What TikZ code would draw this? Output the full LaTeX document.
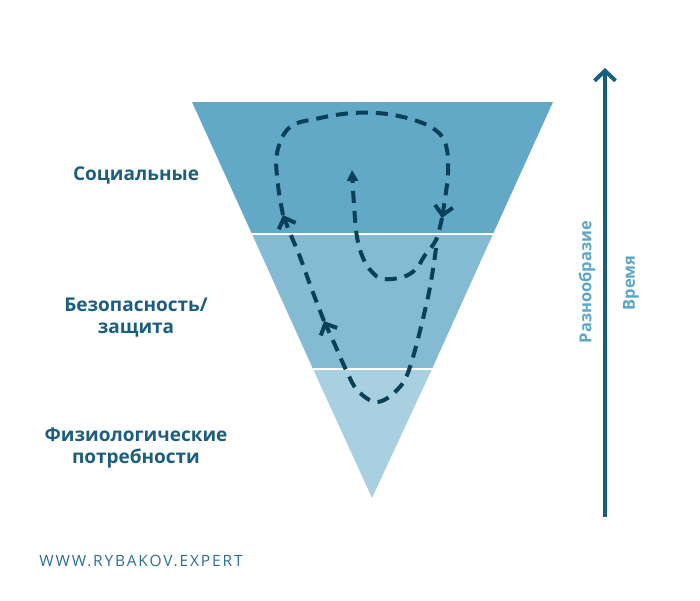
\documentclass[tikz,border=0pt]{standalone}
\usepackage{fontspec}
\setmainfont{Open Sans}
\usetikzlibrary{arrows.meta}
\definecolor{layertop}{HTML}{62A8C7}
\definecolor{layermid}{HTML}{84BBD3}
\definecolor{layerlow}{HTML}{A9D0E0}
\definecolor{pathdark}{HTML}{0B4059}
\definecolor{labelblue}{HTML}{1C5E7F}
\definecolor{axisblue}{HTML}{175F80}
\definecolor{sideblue}{HTML}{5CA7C8}
\definecolor{footblue}{HTML}{2A6F92}
\begin{document}
\begin{tikzpicture}
[x=1pt,y=-1pt,
  layerlabel/.style={font=\bfseries\fontsize{19}{22}\selectfont,text=labelblue,align=center},%
  sidelabel/.style={font=\bfseries\fontsize{16.5}{18}\selectfont,text=sideblue,rotate=90},%
  pathdecorate/.style={draw=pathdark,line width=4pt,dash pattern=on 12pt off 8pt},%
  midtip/.style={-{Straight Barb[length=9pt,width=18pt,line width=4pt]}},%
  endtip/.style={-{Triangle[length=11pt,width=11pt]}},%
  axisdecorate/.style={draw=axisblue,line width=4pt,-{Straight Barb[length=10pt,width=21pt,line width=4pt]}}]
\useasboundingbox (0,0) rectangle (700,600);
%% corners of the funnel
\coordinate (tl) at (192,102);
\coordinate (tr) at (553,102);
\coordinate (ml) at (252,234);
\coordinate (mr) at (493,234);
\coordinate (ll) at (313,369);
\coordinate (lr) at (432,369);
\coordinate (apex) at (372,498);
%% layers
\fill[layertop] (tl) -- (tr) -- (mr) -- (ml) -- cycle;
\fill[layermid] (ml) -- (mr) -- (lr) -- (ll) -- cycle;
\fill[layerlow] (ll) -- (lr) -- (apex) -- cycle;
\foreach \startnode/\endnode in {ml/mr, ll/lr} {
  \draw[white,line width=2.5pt] (\startnode) -- (\endnode);
}
%% layer labels
\node[layerlabel] (social) at (136,175) {Социальные};
\node[layerlabel] (safety) at (136,318) {Безопасность/\\защита};
\node[layerlabel] (physio) at (136,448) {Физиологические\\потребности};
%% spiral path
\coordinate (s0) at (436,248);
\coordinate (s1) at (324,321);
\coordinate (s2) at (283,215);
\coordinate (s3) at (442,218);
\coordinate (s4) at (352,170);
\draw[pathdecorate,midtip] plot[smooth,tension=0.6] coordinates
  {(s0) (428,297) (410,367) (397,390) (377,402) (358,391) (347,372) (335,345) (s1)};
\draw[pathdecorate,midtip] plot[smooth,tension=0.6] coordinates
  {(s1) (312,290) (300,257) (290,233) (s2)};
\draw[pathdecorate,midtip] plot[smooth,tension=0.6] coordinates
  {(s2) (278,185) (277,153) (290,127) (320,118) (353,113) (387,114) (420,122)
   (440,134) (447,150) (448,173) (446,192) (s3)};
\draw[pathdecorate,endtip] plot[smooth,tension=0.6] coordinates
  {(s3) (436,240) (425,255) (416,269) (403,277) (383,279) (372,272) (363,258)
   (357,237) (354,205) (s4)};
%% time axis
\coordinate (axisfoot) at (605,517);
\coordinate (axistop) at (605,68);
\draw[axisdecorate] (axisfoot) -- (axistop);
\node[sidelabel] (variety) at (587,282) {Разнообразие};
\node[sidelabel] (time) at (631,283) {Время};
%% footer
\node[font=\fontsize{15.5}{17}\selectfont\addfontfeature{LetterSpace=12},text=footblue] (site) at (141,561) {WWW.RYBAKOV.EXPERT};
\end{tikzpicture}
\end{document}
